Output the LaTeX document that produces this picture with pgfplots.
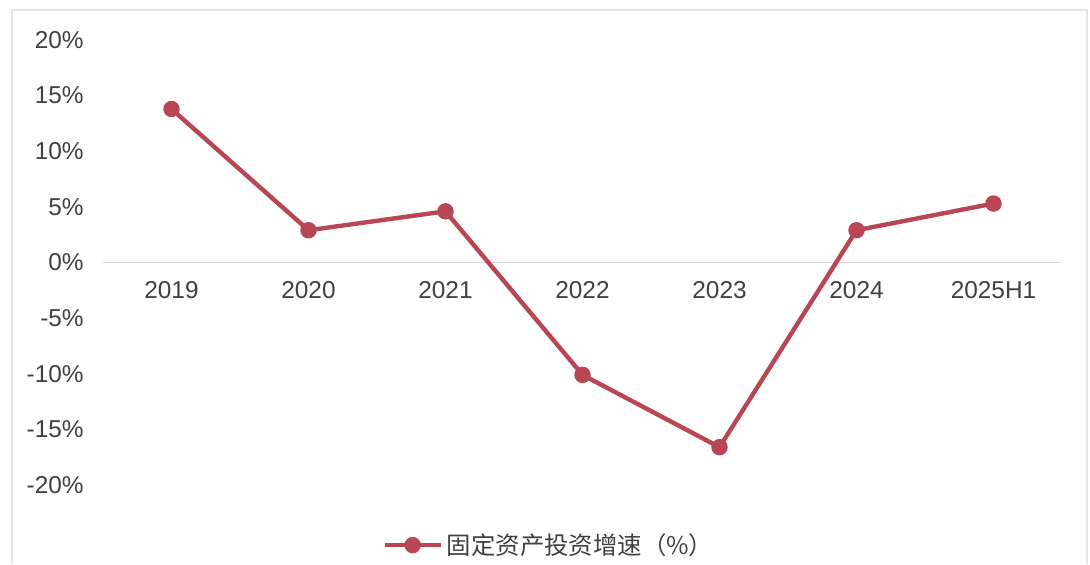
\documentclass[border=0pt]{standalone}
\usepackage{pgfplots}
\pgfplotsset{compat=1.18}
\usepackage{fontspec}
\setmainfont{Liberation Sans}
\newfontfamily\cjk{Noto Sans CJK SC}
\definecolor{lineRed}{RGB}{184,70,84}
\definecolor{txt}{RGB}{64,64,64}
\begin{document}
\begin{tikzpicture}[x=1pt,y=1pt]
\useasboundingbox (-51.5,-39.5) rectangle (493.5,242.5);
\draw[black!10, line width=0.8pt] (-45.5,-39.5) -- (-45.5,237.5) -- (492,237.5) -- (492,-39.5);
\begin{axis}[
  at={(0,0)}, anchor=south west,
  scale only axis,
  width=479.5pt, height=222.5pt,
  xmin=-0.5, xmax=6.5,
  ymin=-20, ymax=20,
  axis x line=middle,
  axis y line=left,
  x axis line style={-, draw=black!15, line width=0.8pt},
  y axis line style={draw=none},
  tick style={draw=none},
  xtick={0,1,2,3,4,5,6},
  xticklabels={2019,2020,2021,2022,2023,2024,2025H1},
  ytick={-20,-15,-10,-5,0,5,10,15,20},
  yticklabels={-20\%,-15\%,-10\%,-5\%,0\%,5\%,10\%,15\%,20\%},
  ticklabel style={font=\fontsize{12.2}{14}\selectfont, text=txt},
  xticklabel style={yshift=-4pt},
  yticklabel style={xshift=-4pt},
  legend style={at={(0.466,-0.135)}, anchor=center, draw=none, fill=none,
    font=\fontsize{12.2}{14}\selectfont\cjk, text=txt, inner sep=0pt},
  legend image code/.code={
    \draw[mark repeat=2, mark phase=2] plot coordinates {(0pt,0pt) (14pt,0pt) (28pt,0pt)};
  },
  clip=false,
]
\addplot[color=lineRed, line width=2.2pt, mark=*, mark size=3pt,
  mark options={fill=lineRed, draw=lineRed}]
  coordinates {(0,13.8) (1,2.9) (2,4.6) (3,-10.1) (4,-16.6) (5,2.9) (6,5.3)};
\addlegendentry{固定资产投资增速（\%）}
\end{axis}
\end{tikzpicture}
\end{document}
